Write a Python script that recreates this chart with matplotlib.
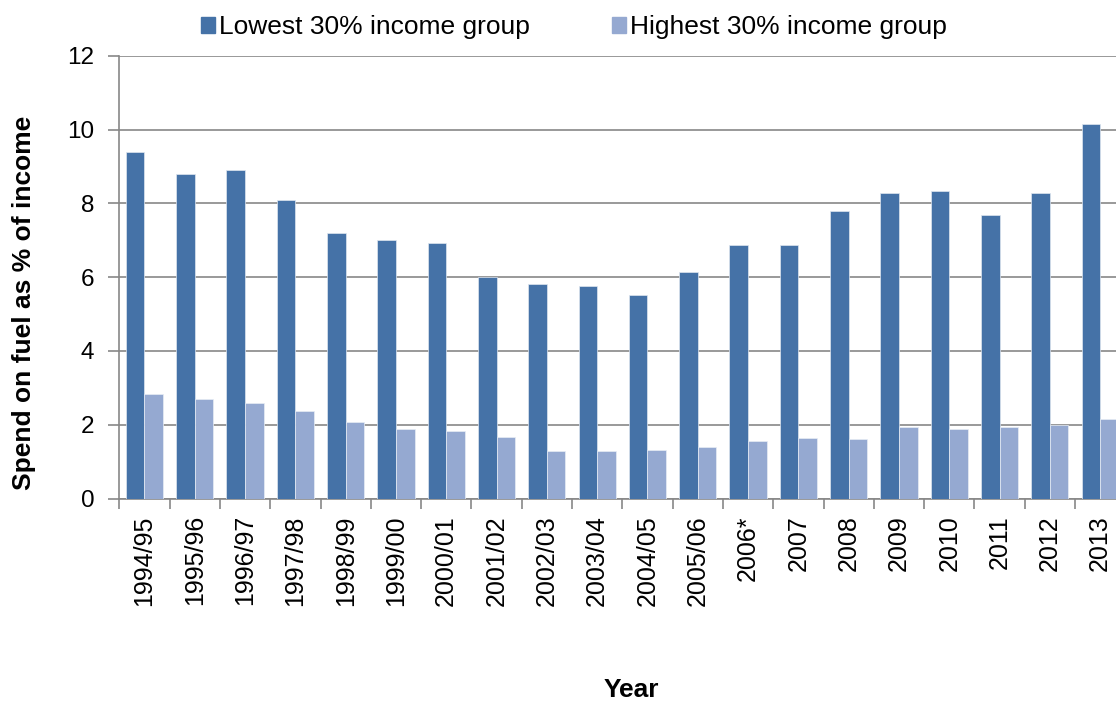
import numpy as np
import matplotlib.pyplot as plt
from matplotlib.patches import Patch

plt.rcParams['font.family'] = ['Liberation Sans', 'DejaVu Sans']

years = ['1994/95', '1995/96', '1996/97', '1997/98', '1998/99', '1999/00',
         '2000/01', '2001/02', '2002/03', '2003/04', '2004/05', '2005/06',
         '2006*', '2007', '2008', '2009', '2010', '2011', '2012', '2013']
lowest = [9.4, 8.8, 8.9, 8.1, 7.2, 7.0, 6.93, 6.0, 5.8, 5.75, 5.52, 6.15,
          6.87, 6.87, 7.79, 8.28, 8.33, 7.67, 8.27, 10.15]
highest = [2.82, 2.69, 2.58, 2.37, 2.07, 1.88, 1.83, 1.66, 1.30, 1.30, 1.31, 1.40,
           1.55, 1.65, 1.61, 1.94, 1.87, 1.93, 2.0, 2.15]

dark = '#4572A7'
light = '#95A9D1'
grid_col = '#878787'

W, H = 1116, 701
fig = plt.figure(figsize=(W / 100, H / 100), dpi=100)
left, right, top, bottom = 119.3, 119.3 + 20 * 50.3, 55.7, 498.5
ax = fig.add_axes([left / W, 1 - bottom / H, (right - left) / W, (bottom - top) / H])

x = np.arange(len(years))
bw = 0.37
ax.bar(x - bw / 2, lowest, bw, color=dark, edgecolor='#dfe6f0', linewidth=0.5, zorder=3)
ax.bar(x + bw / 2, highest, bw, color=light, edgecolor='#e8edf5', linewidth=0.5, zorder=3)

ax.set_xlim(-0.5, len(years) - 0.5)
ax.set_ylim(0, 12)
ax.set_yticks(np.arange(0, 13, 2))
ax.yaxis.grid(True, color=grid_col, linewidth=1.2, zorder=0)
ax.set_axisbelow(True)

ax.set_xticks(x)
ax.set_xticklabels(years, rotation=90, fontsize=18)
ax.set_xticks(np.arange(-0.5, len(years), 1), minor=True)
ax.tick_params(axis='x', which='major', length=0, pad=12)
ax.tick_params(axis='x', which='minor', length=7, width=1.2, color=grid_col)
ax.tick_params(axis='y', length=8, width=1.2, color=grid_col, labelsize=17.5, pad=10)

for s in ['top', 'right']:
    ax.spines[s].set_visible(False)
for s in ['left', 'bottom']:
    ax.spines[s].set_color(grid_col)
    ax.spines[s].set_linewidth(1.2)

fig.text(24 / W, 1 - 303 / H, 'Spend on fuel as % of income', rotation=90,
         ha='center', va='center', fontsize=19, fontweight='bold')
fig.text(631 / W, 1 - 690 / H, 'Year', ha='center', va='center',
         fontsize=19, fontweight='bold')

handles = [Patch(color=dark), Patch(color=light)]
fig.legend(handles, ['Lowest 30% income group', 'Highest 30% income group'],
           loc='center', bbox_to_anchor=(574 / W, 1 - 27 / H), ncol=2, frameon=False,
           fontsize=19, handlelength=0.55, handleheight=0.55, handletextpad=0.15,
           columnspacing=3.1, borderpad=0)

fig.savefig('out.png', dpi=100)
